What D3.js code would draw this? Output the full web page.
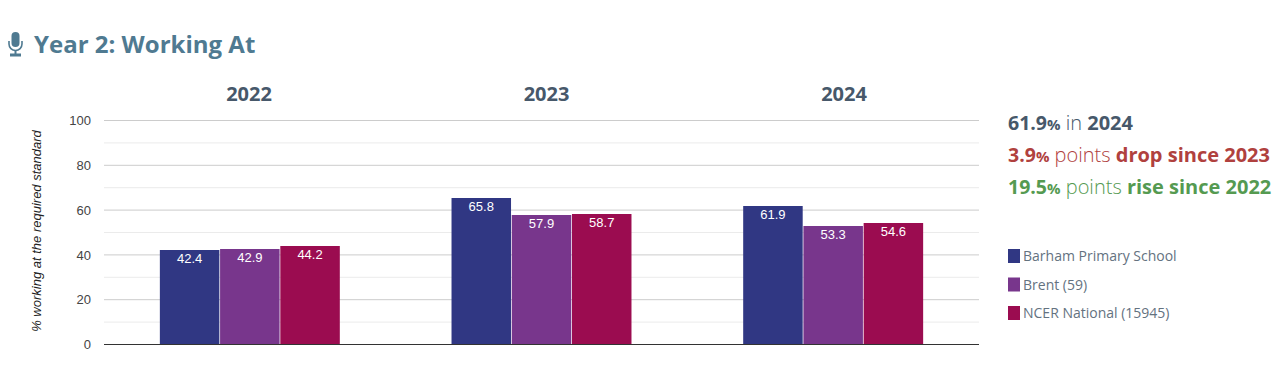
<!DOCTYPE html>
<html>
<head>
<meta charset="utf-8">
<script src="https://cdnjs.cloudflare.com/ajax/libs/d3/7.8.5/d3.min.js"></script>
<style>
    html, body { margin: 0; padding: 0; background: #fff; overflow: hidden; }
    svg { display: block; }
    .sans { font-family: "Open Sans", sans-serif; }
    .tick text, .valueLabel, .axisTitle { font-family: "Liberation Sans", Arial, sans-serif; }
</style>
</head>
<body>
<div id="chart"></div>
<script>

const years = ["2022", "2023", "2024"]
const seriesNames = ["Barham Primary School", "Brent (59)", "NCER National (15945)"]
const seriesColours = ["#303783", "#78368c", "#9b0c50"]

const schoolValues = [42.4, 65.8, 61.9]
const brentValues = [42.9, 57.9, 53.3]
const nationalValues = [44.2, 58.7, 54.6]
const allValues = [schoolValues, brentValues, nationalValues]

const majorTicks = [0, 20, 40, 60, 80, 100]
const minorTicks = [10, 30, 50, 70, 90]

// the three summary lines on the right, each split in styled runs
const summaryLines = [
    { colour: "#47586a", runs: [["61.9", "v"], ["%", "p"], [" in ", "n"], ["2024", "b"]] },
    { colour: "#b0413e", runs: [["3.9", "v"], ["%", "p"], [" points ", "n"], ["drop since 2023", "b"]] },
    { colour: "#559a51", runs: [["19.5", "v"], ["%", "p"], [" points ", "n"], ["rise since 2022", "b"]] }
]
const runSize = { v: 19.5, p: 15, n: 20, b: 20 }
const runWeight = { v: 700, p: 700, n: 300, b: 700 }

const svg = d3.select("#chart").append("svg")
    .attr("width", 1284)
    .attr("height", 366)

const x = d3.scaleBand().domain(years).range([104, 979]).paddingInner(0.383).paddingOuter(0.1915)
const inner = d3.scaleBand().domain(d3.range(seriesNames.length)).range([0, x.bandwidth()]).paddingInner(0.012)
const y = d3.scaleLinear().domain([0, 100]).range([344.5, 120.5])

// the year headers sit in their own wider row, not over the bar groups
const headerX = d3.scalePoint().domain(years).range([249, 844])

// title + mic icon
const mic = svg.append("g").attr("transform", "translate(8,32)").attr("fill", "#4f7a91")
mic.append("rect").attr("x", 3.5).attr("y", 0).attr("width", 8).attr("height", 15).attr("rx", 4)
mic.append("path")
    .attr("d", "M1 9 v3 a6.5 6.5 0 0 0 13 0 v-3")
    .attr("fill", "none").attr("stroke", "#4f7a91").attr("stroke-width", 1.6)
mic.append("rect").attr("x", 6.5).attr("y", 18).attr("width", 2).attr("height", 4)
mic.append("rect").attr("x", 2).attr("y", 21.5).attr("width", 11).attr("height", 3)

svg.append("text")
    .attr("class", "sans")
    .attr("x", 34)
    .attr("y", 53)
    .attr("font-size", 24)
    .attr("font-weight", 700)
    .attr("fill", "#4f7a91")
    .text("Year 2: Working At")

// gridlines
svg.append("g").selectAll("line")
    .data(minorTicks)
    .enter()
    .append("line")
    .attr("x1", 104).attr("x2", 979)
    .attr("y1", d => y(d)).attr("y2", d => y(d))
    .attr("stroke", "#ebebeb")

svg.append("g").selectAll("line")
    .data(majorTicks.filter(d => d > 0))
    .enter()
    .append("line")
    .attr("x1", 104).attr("x2", 979)
    .attr("y1", d => y(d)).attr("y2", d => y(d))
    .attr("stroke", "#cccccc")

// y axis labels only, gridlines are drawn above
const yAxis = svg.append("g")
    .attr("transform", "translate(104,0)")
    .call(d3.axisLeft(y).tickValues(majorTicks).tickSize(0).tickPadding(13))

yAxis.select(".domain").remove()
yAxis.selectAll("text").attr("font-size", 13).attr("fill", "#444444")

svg.append("text")
    .attr("class", "axisTitle")
    .attr("transform", "translate(41,231) rotate(-90)")
    .attr("text-anchor", "middle")
    .attr("font-size", 13)
    .attr("font-style", "italic")
    .attr("fill", "#222222")
    .text("% working at the required standard")

// year headers
svg.append("g").selectAll("text")
    .data(years)
    .enter()
    .append("text")
    .attr("class", "sans")
    .attr("x", d => headerX(d))
    .attr("y", 101)
    .attr("text-anchor", "middle")
    .attr("font-size", 20)
    .attr("font-weight", 700)
    .attr("fill", "#47586a")
    .text(d => d)

// bars
allValues.forEach(function(values, s) {

    const group = svg.append("g")

    group.selectAll("rect")
        .data(values)
        .enter()
        .append("rect")
        .attr("x", (d, i) => x(years[i]) + inner(s))
        .attr("y", d => Math.ceil(y(d)))
        .attr("width", inner.bandwidth())
        .attr("height", d => y(0) - Math.ceil(y(d)))
        .attr("fill", seriesColours[s])

    group.selectAll("text")
        .data(values)
        .enter()
        .append("text")
        .attr("class", "valueLabel")
        .attr("x", (d, i) => x(years[i]) + inner(s) + inner.bandwidth() / 2)
        .attr("y", d => y(d) + 13.5)
        .attr("text-anchor", "middle")
        .attr("font-size", 13)
        .attr("fill", "#ffffff")
        .text(d => d.toFixed(1))

})

// baseline
svg.append("line")
    .attr("x1", 104).attr("x2", 979)
    .attr("y1", y(0)).attr("y2", y(0))
    .attr("stroke", "#333333")

// summary text
summaryLines.forEach(function(line, i) {

    const text = svg.append("text")
        .attr("class", "sans")
        .attr("x", 1008)
        .attr("y", 130 + i * 32)
        .attr("fill", line.colour)

    line.runs.forEach(function(run) {

        text.append("tspan")
            .style("white-space", "pre")
            .attr("font-size", runSize[run[1]])
            .attr("font-weight", runWeight[run[1]])
            .text(run[0])

    })

})

// legend
const legend = svg.append("g").selectAll("g")
    .data(seriesNames)
    .enter()
    .append("g")
    .attr("transform", (d, i) => `translate(1008,${249 + i * 28.5})`)

legend.append("rect")
    .attr("width", 12)
    .attr("height", 14)
    .attr("fill", (d, i) => seriesColours[i])

legend.append("text")
    .attr("class", "sans")
    .attr("x", 15)
    .attr("y", 12)
    .attr("font-size", 14)
    .attr("fill", "#64727f")
    .text(d => d)

</script>
</body>
</html>
